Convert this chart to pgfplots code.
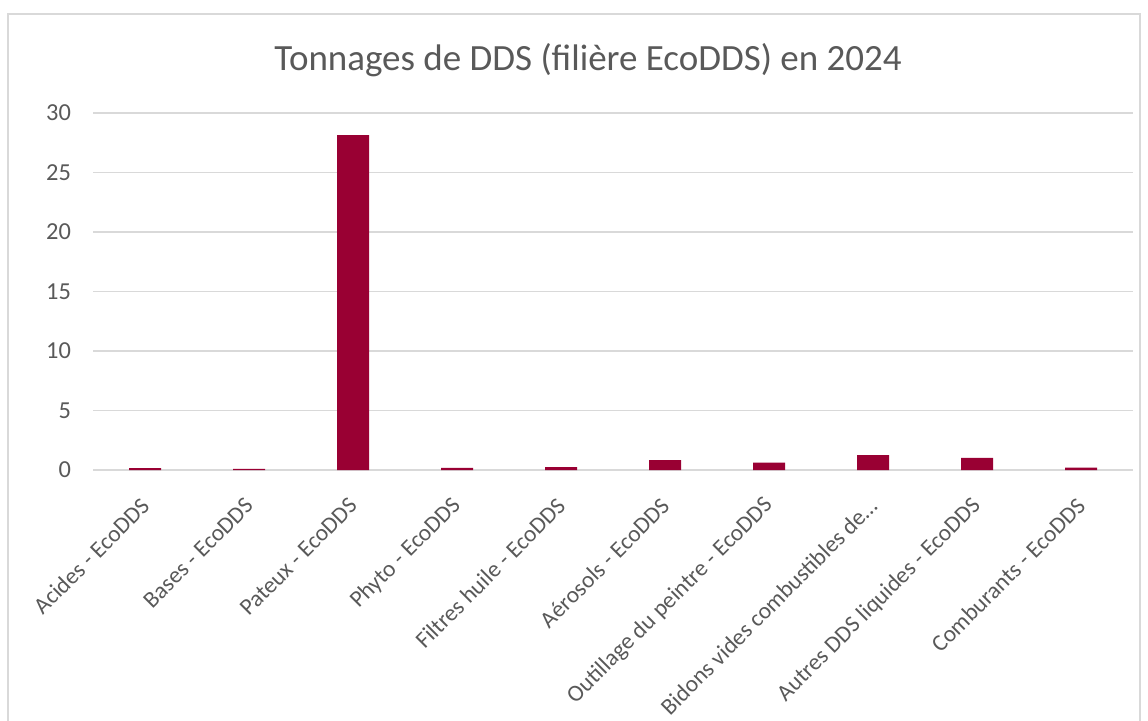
\documentclass[border=0pt]{standalone}
\usepackage{fontspec}
\setmainfont{Carlito}
\usepackage{pgfplots}
\pgfplotsset{compat=1.18}
\definecolor{barred}{RGB}{153,0,51}
\definecolor{gridgray}{RGB}{217,217,217}
\definecolor{txtgray}{RGB}{89,89,89}
\begin{document}
\begin{tikzpicture}[x=1pt,y=1pt]
\useasboundingbox (0,0) rectangle (574,360);
\draw[gridgray,line width=0.6pt] (4,-2) rectangle (570,353);
\node[txtgray,font=\fontsize{18.5}{22}\selectfont] at (294,330) {Tonnages de DDS (filière EcoDDS) en 2024};
\begin{axis}[
  at={(46.5pt,125pt)},
  anchor=south west,
  scale only axis,
  width=520pt,
  height=178.5pt,
  ymin=0, ymax=30,
  xmin=-0.5, xmax=9.5,
  ytick={0,5,...,30},
  xtick={0,...,9},
  xticklabels={Acides - EcoDDS,Bases - EcoDDS,Pateux - EcoDDS,Phyto - EcoDDS,Filtres huile - EcoDDS,Aérosols - EcoDDS,Outillage du peintre - EcoDDS,Bidons vides combustibles de…,Autres DDS liquides - EcoDDS,Comburants - EcoDDS},
  ymajorgrids,
  grid style={gridgray,line width=0.6pt},
  axis line style={draw=none},
  major tick length=0pt,
  yticklabel style={txtgray,font=\fontsize{12.2}{14}\selectfont,xshift=-7.5pt},
  /pgf/number format/assume math mode=true,
  xticklabel style={txtgray,font=\fontsize{11.7}{14}\selectfont,xshift=2.5pt,yshift=-13.5pt,rotate=45,anchor=east},
  ybar,
  bar width=16pt,
]
\addplot[fill=barred,draw=none] coordinates {
(0,0.15) (1,0.09) (2,28.15) (3,0.18) (4,0.24) (5,0.84) (6,0.61) (7,1.25) (8,1.02) (9,0.2)};
\end{axis}
\end{tikzpicture}
\end{document}
